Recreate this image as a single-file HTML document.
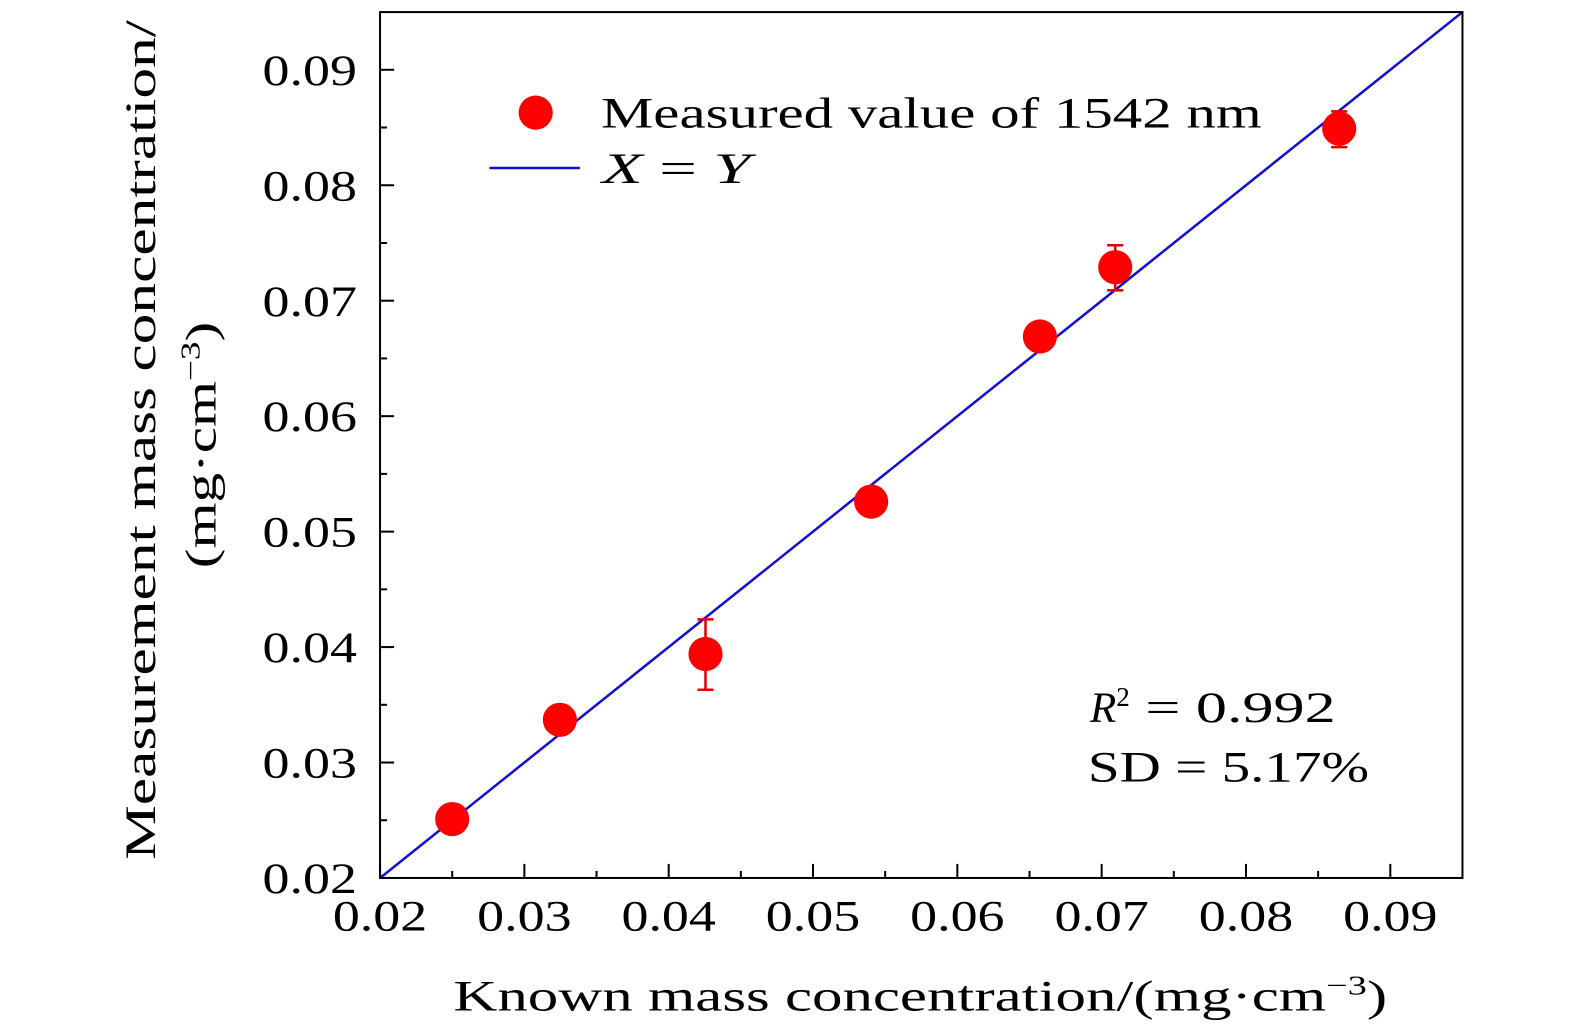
<!DOCTYPE html>
<html><head><meta charset="utf-8"><style>
html,body{margin:0;padding:0;background:#fff;overflow:hidden;width:1575px;height:1033px;}
svg{display:block;font-family:"Liberation Serif",serif;}
</style></head><body>
<svg id="chart" width="1575" height="1033" viewBox="0 0 1575 1033" xmlns="http://www.w3.org/2000/svg">
<g transform="translate(1.5,0) scale(1.0041,1.0057)">
<g id="plot"></g>
<g>
<circle cx="532" cy="112" r="17" fill="#ff0000"/>
<text x="597" y="127" font-size="43" textLength="658" lengthAdjust="spacingAndGlyphs">Measured value of 1542 nm</text>
<line x1="486" y1="167" x2="576" y2="167" stroke="#1010d0" stroke-width="2.5"/>
<text x="598" y="182" font-size="43" textLength="148" lengthAdjust="spacingAndGlyphs"><tspan font-style="italic">X</tspan> = <tspan font-style="italic">Y</tspan></text>
</g>
<text x="1084" y="718" font-size="43"><tspan font-style="italic">R</tspan><tspan font-size="27" dy="-16">2</tspan><tspan dy="16" textLength="205" lengthAdjust="spacingAndGlyphs"> = 0.992</tspan></text>
<text x="1082" y="777" font-size="43" textLength="280" lengthAdjust="spacingAndGlyphs">SD = 5.17%</text>
<text x="450" y="1005" font-size="43" textLength="930" lengthAdjust="spacingAndGlyphs">Known mass concentration/(mg·cm<tspan font-size="27" dy="-16">−3</tspan><tspan dy="16">)</tspan></text>
<g transform="translate(153,0) rotate(-90)">
<text x="-855" y="0" font-size="43" textLength="835" lengthAdjust="spacingAndGlyphs">Measurement mass concentration/</text>
<text x="-565" y="60" font-size="43" textLength="245" lengthAdjust="spacingAndGlyphs">(mg·cm<tspan font-size="27" dy="-16">−3</tspan><tspan dy="16">)</tspan></text>
</g>
</g>
</svg>
<script>
const knownX = [0.0250, 0.03246, 0.04255, 0.05403, 0.06572, 0.07094, 0.08646];
const measuredY = [0.0251, 0.0337, 0.0394, 0.0526, 0.0669, 0.0729, 0.0849];
const errUp = [0.0004, 0.0004, 0.0030, 0.0004, 0.0004, 0.0019, 0.0015];
const errDown = [0.0004, 0.0004, 0.0031, 0.0004, 0.0004, 0.0020, 0.0016];
const xTicks = [0.02, 0.03, 0.04, 0.05, 0.06, 0.07, 0.08, 0.09];
const yTicks = [0.02, 0.03, 0.04, 0.05, 0.06, 0.07, 0.08, 0.09];
const xTickLabels = ["0.02","0.03","0.04","0.05","0.06","0.07","0.08","0.09"];
const yTickLabels = ["0.02","0.03","0.04","0.05","0.06","0.07","0.08","0.09"];

const L=377,R=1455,T=12,B=873;
const xMin=0.02,xMax=0.095,yMin=0.02,yMax=0.095;
const sx=v=>L+(v-xMin)/(xMax-xMin)*(R-L);
const sy=v=>B-(v-yMin)/(yMax-yMin)*(B-T);
const NS="http://www.w3.org/2000/svg";
const g=document.getElementById('plot');
function mk(tag,attrs,parent){const e=document.createElementNS(NS,tag);for(const k in attrs)e.setAttribute(k,attrs[k]);(parent||g).appendChild(e);return e;}

const line=mk('line',{x1:sx(0.02),y1:sy(0.02),x2:sx(0.095),y2:sy(0.095),stroke:'#1010d0','stroke-width':2.5});



const box=mk('rect',{x:L,y:T,width:R-L,height:B-T,fill:'none',stroke:'#000','stroke-width':2});



xTicks.forEach((v,i)=>{
  const x=sx(v);
  const t=mk('line',{x1:x,y1:B,x2:x,y2:B-14,stroke:'#000','stroke-width':2});
  
  
  const m=sx(v+0.005);
  if(m<R){const mt=mk('line',{x1:m,y1:B,x2:m,y2:B-7,stroke:'#000','stroke-width':2});
  
  }
  const lb=mk('text',{x:x-47,y:B+52,'font-size':43,textLength:94,lengthAdjust:'spacingAndGlyphs',fill:'#000'});
  lb.textContent=xTickLabels[i];
  
  
});
yTicks.forEach((v,i)=>{
  const y=sy(v);
  const t=mk('line',{x1:L,y1:y,x2:L+14,y2:y,stroke:'#000','stroke-width':2});
  
  
  const m=sy(v+0.005);
  if(m>T){const mt=mk('line',{x1:L,y1:m,x2:L+7,y2:m,stroke:'#000','stroke-width':2});
  
  }
  const lb=mk('text',{x:L-117,y:y+15,'font-size':43,textLength:94,lengthAdjust:'spacingAndGlyphs',fill:'#000'});
  lb.textContent=yTickLabels[i];
  
  
});

knownX.forEach((xv,i)=>{
  const x=sx(xv),y=sy(measuredY[i]);
  const yt=sy(measuredY[i]+errUp[i]),yb=sy(measuredY[i]-errDown[i]);
  const eb=mk('path',{d:`M${x},${yt}V${yb}M${x-8},${yt}H${x+8}M${x-8},${yb}H${x+8}`,stroke:'#e00000','stroke-width':2.5,fill:'none'});
  
  
  const c=mk('circle',{cx:x,cy:y,r:17,fill:'#ff0000'});
  
  
});
</script>
</body></html>
